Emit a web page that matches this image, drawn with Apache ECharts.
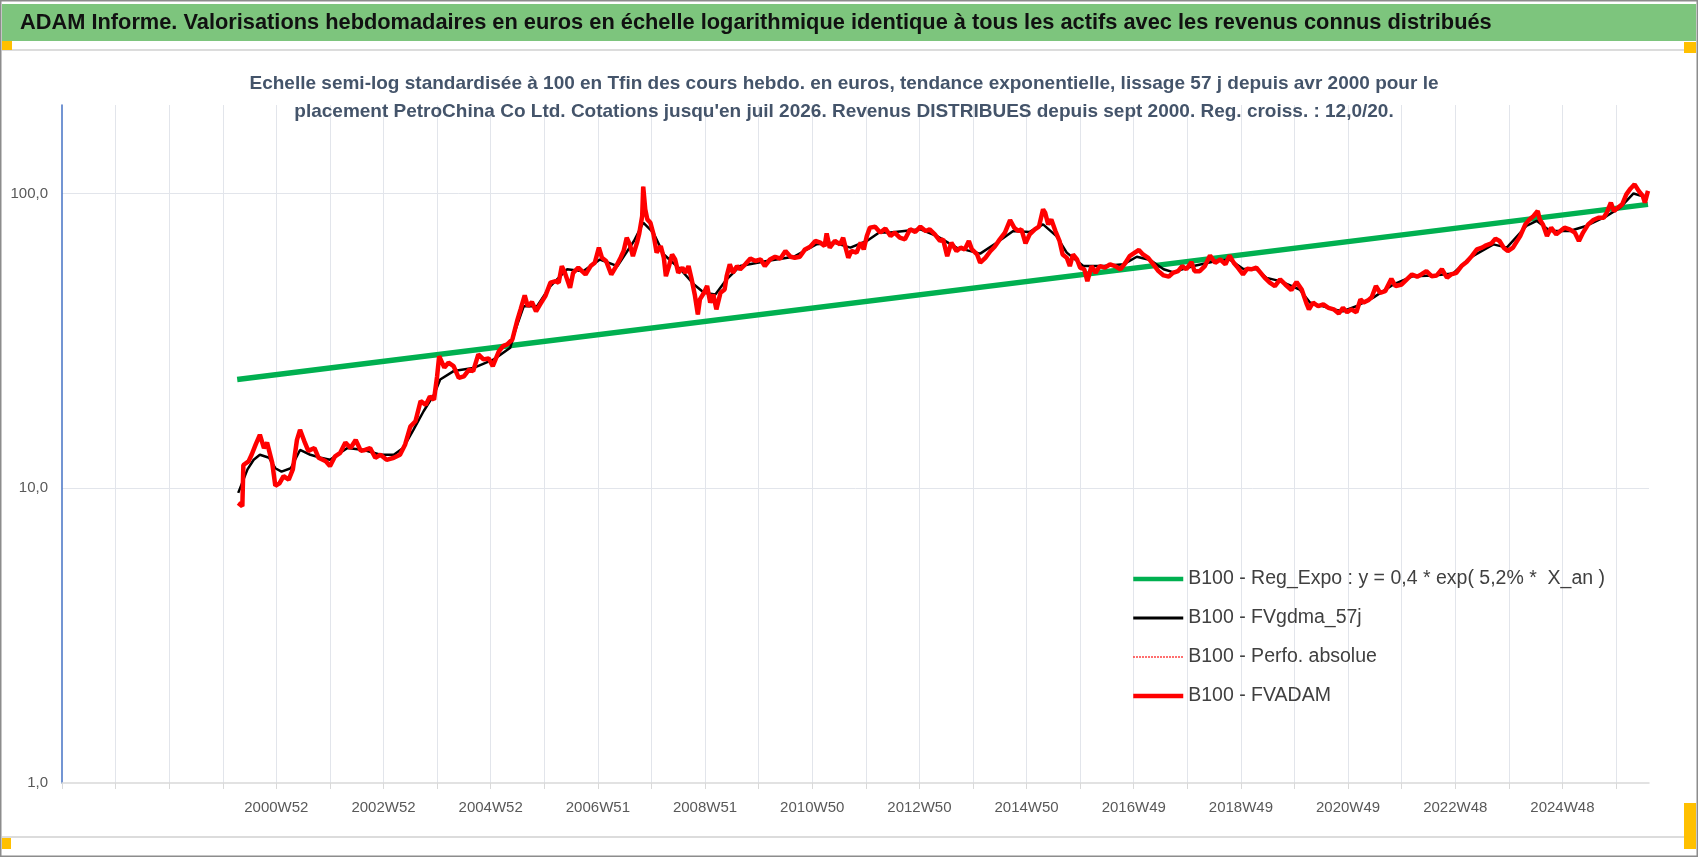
<!DOCTYPE html>
<html>
<head>
<meta charset="utf-8">
<script src="https://cdn.jsdelivr.net/npm/echarts@6/dist/echarts.min.js"></script>
<style>
html,body{margin:0;padding:0;background:#fff;}
#chart{width:1698px;height:857px;}
</style>
</head>
<body>
<div id="chart"></div>
<script>
// Week index 0 = first weekly category of the axis; labels every 104 weeks
const xTickLabels = ['2000W52','2002W52','2004W52','2006W51','2008W51','2010W50','2012W50','2014W50','2016W49','2018W49','2020W49','2022W48','2024W48'];
const firstLabelIndex = 208;
const labelStep = 104;
const weeksTotal = 1540;

const mainTitle = "ADAM Informe. Valorisations hebdomadaires en euros en échelle logarithmique identique à tous les actifs avec les revenus connus distribués";
const subTitle1 = "Echelle semi-log standardisée à 100 en Tfin des cours hebdo. en euros, tendance exponentielle, lissage 57 j depuis avr 2000 pour le";
const subTitle2 = "placement PetroChina Co Ltd. Cotations jusqu'en juil 2026. Revenus DISTRIBUES depuis sept 2000. Reg. croiss. : 12,0/20.";

const seriesNames = ['B100 - Reg_Expo : y = 0,4 * exp( 5,2% *  X_an )','B100 - FVgdma_57j','B100 - Perfo. absolue','B100 - FVADAM'];

// FVADAM (red) — week index / value
const adamWeeks = [171,175,176,181,184,188,192,196,199,204,207,211,215,220,224,228,231,235,239,245,249,256,260,265,270,275,280,285,290,294,299,304,309,315,322,328,333,338,343,348,353,357,361,364,366,371,375,380,385,390,395,399,404,409,414,418,424,428,
432,437,442,445,449,452,456,460,464,469,474,479,482,485,488,493,496,501,508,513,517,521,524,528,533,537,542,545,548,551,554,558,560,563,564,566,568,571,574,577,581,584,586,589,592,595,598,602,605,608,611,614,617,619,623,626,629,632,635,639,643,645,648,651,655,658,663,668,673,678,682,687,692,697,702,707,711,716,721,726,731,736,740,742,745,750,755,758,760,763,766,771,775,778,781,784,789,
794,799,804,808,813,818,823,828,833,838,842,847,852,855,859,863,868,872,876,880,883,888,891,896,901,905,910,915,920,924,928,931,935,939,944,948,952,954,957,960,964,968,971,975,978,981,985,988,992,995,999,1003,1007,1012,1017,1022,1027,1032,1036,1041,1045,1049,1054,1059,1064,1069,1074,1078,1083,1087,1091,1096,1099,1104,1109,1114,1119,1124,1129,1133,1137,1141,1146,1150,1154,1159,
1167,1172,1177,1182,1187,1193,1198,1203,1208,1210,1214,1219,1224,1229,1234,1239,1243,1247,1251,1256,1260,1263,1268,1271,1275,1279,1284,1290,1294,1300,1305,1310,1315,1319,1324,1329,1334,1339,1344,1348,1353,1358,1363,1368,1373,1378,1382,1387,1391,1395,1399,1403,1408,1411,1415,1420,1424,1428,1432,1434,1437,1441,1445,1450,1454,1458,1463,1468,1472,1476,1481,1486,1491,1496,1499,1503,1506,1510,1514,1518,1522,1526,1530,1534,1536,1539];
const adamValues = [8.92,8.69,12.0,12.35,13.0,14.1,15.2,13.7,14.3,12.2,10.2,10.4,11.0,10.7,11.6,14.6,15.8,14.5,13.4,13.7,12.7,12.35,11.9,12.85,13.2,14.3,13.7,14.6,13.4,13.5,13.7,12.7,13.0,12.5,12.7,13.0,14.1,16.2,16.9,19.8,19.2,20.5,20.0,24.0,28.1,25.7,26.7,26.0,23.7,24.0,25.3,25.0,28.5,27.4,27.6,26.0,29.2,30.4,
30.8,32.0,37.4,40.5,45.2,41.5,42.9,39.9,42.1,44.9,49.9,50.5,49.9,56.8,53.9,47.9,53.9,56.1,53.2,56.8,58.3,65.6,60.6,59.1,53.2,56.1,60.6,63.9,70.9,67.3,61.4,68.2,72.8,84.0,105.7,88.5,81.8,79.7,72.8,63.1,66.4,60.6,52.5,56.8,62.2,59.8,53.9,56.1,53.9,56.8,51.2,45.5,38.9,43.8,46.1,48.6,42.7,45.5,40.5,46.1,47.3,52.5,57.6,53.9,56.8,55.4,57.6,60.2,59.1,59.8,56.8,59.8,61.1,60.2,63.9,61.1,60.6,61.1,64.7,66.1,69.1,68.2,66.4,73.3,65.6,69.1,67.3,70.9,66.4,60.6,63.9,63.1,68.2,64.7,71.8,76.7,77.2,
73.8,76.1,71.8,73.8,70.9,70.0,75.7,74.2,77.3,74.7,75.7,72.8,69.1,70.0,61.4,68.2,63.9,65.6,64.7,69.1,64.7,62.2,58.3,60.6,63.9,66.1,70.0,73.8,81.4,76.7,74.7,75.7,67.8,72.8,75.7,77.3,88.5,86.2,78.7,81.8,74.7,69.1,62.2,60.6,56.8,62.2,59.8,56.1,55.4,50.5,56.8,53.9,56.8,56.1,57.6,56.8,55.4,58.3,61.4,63.1,64.4,62.2,60.6,57.6,54.6,52.8,52.3,53.9,54.6,56.8,55.4,58.6,54.6,54.6,56.8,61.7,58.3,59.8,57.6,61.7,58.3,56.1,53.2,55.6,55.4,56.1,
51.9,49.9,48.6,51.2,49.2,47.1,50.2,47.3,42.1,40.5,42.7,41.5,42.1,41.0,40.5,39.2,41.0,39.6,40.5,39.6,43.8,42.7,43.6,44.6,48.6,46.1,46.7,51.4,48.6,49.2,51.2,53.2,52.3,53.2,54.6,52.5,52.8,55.4,51.9,53.2,53.9,56.8,58.6,61.4,64.7,65.6,66.8,67.8,70.4,69.1,65.6,63.9,65.6,68.2,71.8,78.7,81.8,84.0,87.4,81.8,78.7,71.8,76.7,72.8,74.7,76.7,75.7,73.8,69.1,73.8,78.7,81.4,82.9,82.9,86.2,93.2,87.4,89.7,92.0,99.5,104.0,107.6,102.2,98.2,93.2,102.2];

// FVgdma_57j (black, smoothed)
const gdmaWeeks = [171,180,186,192,201,207,213,222,231,241,251,260,277,293,309,322,331,341,351,361,367,380,399,419,435,440,448,461,474,490,506,522,539,555,564,574,584,600,613,623,634,645,658,684,710,732,749,765,781,793,804,833,849,868,891,907,923,939,952,965,975,991,1011,1030,1043,1056,1069,1078,1098,1120,1133,1146,1159,1169,1182,1201,1211,1234,1243,1256,1272,1292,1311,1331,1350,1366,1389,1402,1421,1431,1444,1463,1479,1499,1512,1525,1538];
const gdmaValues = [9.65,11.6,12.5,13.0,12.7,11.7,11.4,11.7,13.5,13.0,12.7,12.5,13.7,13.5,13.0,13.0,13.7,15.8,18.3,20.8,23.4,25.0,25.6,27.4,30.0,34.5,41.5,41.5,48.6,55.4,54.6,59.8,56.8,69.1,79.7,73.6,62.2,55.4,49.3,46.1,45.5,51.2,56.8,59.1,61.1,67.3,68.2,65.6,69.1,73.9,73.8,75.7,71.8,65.6,62.6,68.2,74.7,74.2,78.7,71.8,63.1,56.8,56.8,57.6,61.1,59.6,55.4,54.2,56.8,59.1,59.8,55.6,55.4,51.8,50.5,47.3,42.7,40.5,39.9,41.5,44.3,49.2,52.5,52.8,53.6,60.6,67.3,65.6,77.7,80.9,74.7,74.7,77.7,84.0,89.7,100.2,97.0];

// Reg_Expo (green) — straight on the log scale, endpoints
const trendWeeks = [170,1539];
const trendValues = [23.4,92.0];

const zip = (xs, ys) => xs.map((x, i) => [x, ys[i]]);

const FONT = '"Liberation Sans", Arial, sans-serif';
const chart = echarts.init(document.getElementById('chart'), null, {renderer: 'canvas'});

const seriesColors = ['#00b050', '#000000', '#ff0000', '#ff0000'];
const seriesWidths = [5.5, 2.5, 1.5, 4.5];
const seriesTypes = ['solid', 'solid', 'dotted', 'solid'];
const legendWidths = [4.5, 3, 1.5, 4.5];

chart.setOption({
  animation: false,
  backgroundColor: '#ffffff',
  graphic: [
    {type: 'rect', shape: {x: 0.75, y: 0.75, width: 1696.5, height: 855.5}, style: {fill: 'none', stroke: '#8c8c8c', lineWidth: 1.5}, z: 0},
    {type: 'rect', shape: {x: 2, y: 4, width: 1694, height: 37}, style: {fill: '#7dc57d'}, z: 1},
    {type: 'line', shape: {x1: 2, y1: 50, x2: 1696, y2: 50}, style: {stroke: '#dcdcdc', lineWidth: 2}, z: 1},
    {type: 'line', shape: {x1: 2, y1: 837, x2: 1696, y2: 837}, style: {stroke: '#dcdcdc', lineWidth: 2}, z: 1},
    {type: 'rect', shape: {x: 2, y: 41, width: 10, height: 9}, style: {fill: '#ffc000'}, z: 2},
    {type: 'rect', shape: {x: 1684, y: 42, width: 12, height: 11}, style: {fill: '#ffc000'}, z: 2},
    {type: 'rect', shape: {x: 2, y: 838, width: 9, height: 11}, style: {fill: '#ffc000'}, z: 2},
    {type: 'rect', shape: {x: 1684, y: 803, width: 12, height: 46}, style: {fill: '#ffc000'}, z: 2},
    {type: 'text', x: 20, y: 23, style: {text: mainTitle, fill: '#111111', fontFamily: FONT, fontWeight: 'bold', fontSize: 21.8, align: 'left', verticalAlign: 'middle'}, z: 3},
    {type: 'text', x: 844, y: 84, style: {text: subTitle1, fill: '#44546a', fontFamily: FONT, fontWeight: 'bold', fontSize: 19, align: 'center', verticalAlign: 'middle'}, z: 3},
    {type: 'text', x: 844, y: 112, style: {text: subTitle2, fill: '#44546a', fontFamily: FONT, fontWeight: 'bold', fontSize: 19, align: 'center', verticalAlign: 'middle'}, z: 3}
  ],
  grid: {left: 62, right: 49, top: 105, bottom: 74, containLabel: false},
  legend: {
    orient: 'vertical',
    left: 1126,
    top: 564,
    itemWidth: 50,
    itemHeight: 14,
    itemGap: 19,
    itemStyle: {opacity: 0},
    textStyle: {fontFamily: FONT, fontSize: 19.5, color: '#404040', padding: [0, 0, 0, 0]},
    data: seriesNames.map((n, i) => ({name: n, itemStyle: {opacity: 0}, lineStyle: {width: legendWidths[i], color: seriesColors[i], type: seriesTypes[i]}}))
  },
  xAxis: {
    type: 'value',
    min: 0,
    max: weeksTotal,
    interval: 52,
    axisLine: {show: true, lineStyle: {color: '#d9d9d9', width: 1.5}},
    axisTick: {show: true, length: 6, lineStyle: {color: '#d9d9d9'}},
    axisLabel: {
      color: '#595959', fontFamily: FONT, fontSize: 15, margin: 17,
      showMaxLabel: false,
      formatter: function (v) {
        const k = (v - firstLabelIndex) / labelStep;
        return (Number.isInteger(k) && k >= 0 && k < xTickLabels.length) ? xTickLabels[k] : '';
      }
    },
    splitLine: {show: true, showMinLine: false, showMaxLine: false, lineStyle: {color: '#e2e5eb', width: 1}}
  },
  yAxis: {
    type: 'log',
    logBase: 10,
    min: 1,
    max: 200,
    axisLine: {show: true, lineStyle: {color: '#4472c4', width: 1.5}},
    axisTick: {show: false},
    axisLabel: {
      color: '#595959', fontFamily: FONT, fontSize: 15, margin: 14,
      showMaxLabel: false,
      formatter: function (v) {
        const l = Math.log10(v);
        return Math.abs(l - Math.round(l)) < 1e-9 ? v.toFixed(1).replace('.', ',') : '';
      }
    },
    splitLine: {show: true, showMinLine: false, showMaxLine: false, lineStyle: {color: '#e2e5eb', width: 1}}
  },
  series: [
    {name: seriesNames[0], type: 'line', data: zip(trendWeeks, trendValues), showSymbol: false, symbol: 'none', lineStyle: {color: seriesColors[0], width: seriesWidths[0], type: seriesTypes[0]}, itemStyle: {color: seriesColors[0]}, z: 2},
    {name: seriesNames[1], type: 'line', data: zip(gdmaWeeks, gdmaValues), showSymbol: false, symbol: 'none', lineStyle: {color: seriesColors[1], width: seriesWidths[1], type: seriesTypes[1]}, itemStyle: {color: seriesColors[1]}, z: 3},
    {name: seriesNames[2], type: 'line', data: zip(adamWeeks, adamValues), showSymbol: false, symbol: 'none', lineStyle: {color: seriesColors[2], width: seriesWidths[2], type: seriesTypes[2]}, itemStyle: {color: seriesColors[2]}, z: 4},
    {name: seriesNames[3], type: 'line', data: zip(adamWeeks, adamValues), showSymbol: false, symbol: 'none', lineStyle: {color: seriesColors[3], width: seriesWidths[3], type: seriesTypes[3]}, itemStyle: {color: seriesColors[3]}, z: 5}
  ]
});
</script>
</body>
</html>
